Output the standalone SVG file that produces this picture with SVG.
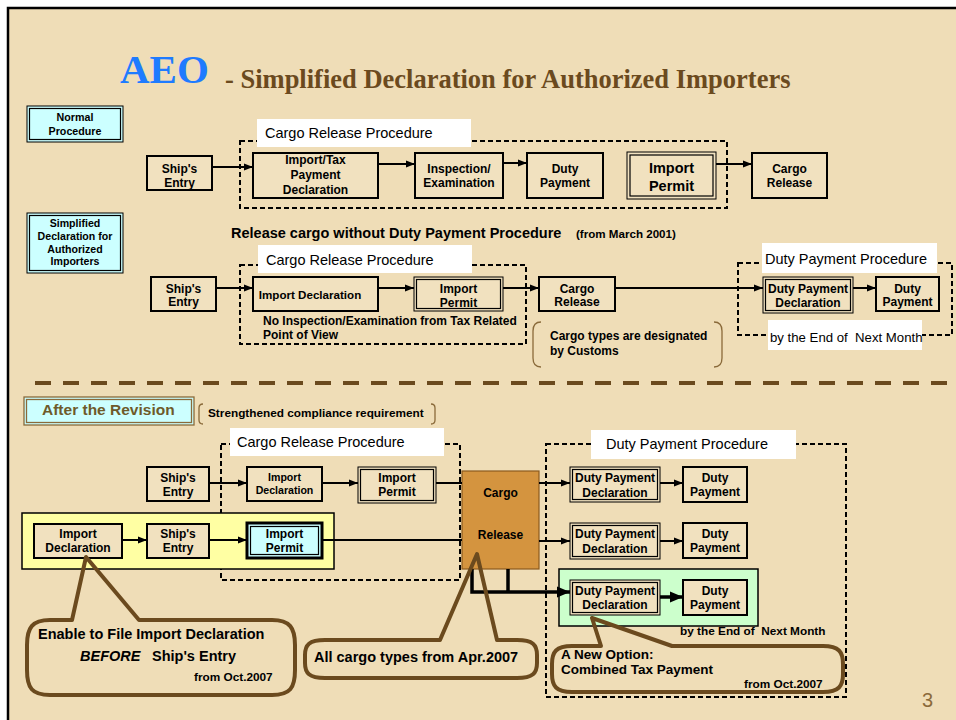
<svg xmlns="http://www.w3.org/2000/svg" width="956" height="720" viewBox="0 0 956 720">
<defs>
<style>
.bg{fill:#EFDDB7}
.box{fill:#F1E1BF;stroke:#000;stroke-width:2}
.dbo{fill:#F1E1BF;stroke:#000;stroke-width:1}
.dbi{fill:none;stroke:#000;stroke-width:1.2}
.dash{fill:none;stroke:#000;stroke-width:2;stroke-dasharray:5 3}
.lbl{fill:#fff}
.t{font-family:"Liberation Sans",Arial,sans-serif;font-weight:bold;fill:#000}
.c{text-anchor:middle}
.n{font-weight:normal}
.conn{stroke:#000;stroke-width:2;fill:none}
.thick{stroke:#000;stroke-width:3.5;fill:none}
.callout{fill:none;stroke:#6B4A1E;stroke-width:4;stroke-linejoin:round}
.brk{fill:none;stroke:#8A6A3A;stroke-width:1.3}
</style>
<marker id="ah" markerWidth="9" markerHeight="8" refX="9" refY="4" orient="auto" markerUnits="userSpaceOnUse"><path d="M0,0.5 L9,4 L0,7.5 Z" fill="#000"/></marker>
<marker id="ahb" markerWidth="13" markerHeight="12" refX="13" refY="6" orient="auto" markerUnits="userSpaceOnUse"><path d="M0,0.5 L13,6 L0,11.5 Z" fill="#000"/></marker>
</defs>
<rect x="0" y="0" width="956" height="720" fill="#fff"/>
<rect class="bg" x="8" y="8" width="948" height="712"/>
<path d="M8,720 L8,8 L956,8" fill="none" stroke="#000" stroke-width="2.5"/>

<g id="title">
<text x="120" y="83" font-family="'Liberation Serif','Times New Roman',serif" font-weight="bold" font-size="41" fill="#1E7BFF">AEO</text>
<text x="225" y="88" font-family="'Liberation Serif','Times New Roman',serif" font-weight="bold" font-size="26.5" fill="#6B4A1E">- Simplified Declaration for Authorized Importers</text>
</g>

<g id="normal-procedure">
<rect class="dbo" x="27" y="106" width="96" height="36" style="fill:#CCFFFF"/>
<rect class="dbi" x="29.5" y="108.5" width="91" height="31"/>
<text class="t c" x="75" y="121" font-size="10.7">Normal</text>
<text class="t c" x="75" y="135" font-size="10.7">Procedure</text>
</g>

<g id="crp-1">
<rect class="dash" x="240" y="141" width="487" height="67"/>
<rect class="lbl" x="257" y="119" width="214" height="28"/>
<text class="t n" x="265" y="138" font-size="14.5">Cargo Release Procedure</text>
</g>

<g id="n1-ship"><rect class="box" x="147" y="156" width="65" height="34"/>
<text class="t c" x="179.5" y="173" font-size="12">Ship's</text><text class="t c" x="179.5" y="187" font-size="12">Entry</text></g>
<g id="n1-imptax"><rect class="box" x="253" y="153" width="125" height="45"/>
<text class="t c" x="315.5" y="164" font-size="12">Import/Tax</text><text class="t c" x="315.5" y="179" font-size="12">Payment</text><text class="t c" x="315.5" y="194" font-size="12">Declaration</text></g>
<g id="n1-insp"><rect class="box" x="415" y="153" width="88" height="45"/>
<text class="t c" x="459" y="173" font-size="12">Inspection/</text><text class="t c" x="459" y="187" font-size="12">Examination</text></g>
<g id="n1-duty"><rect class="box" x="527" y="153" width="76" height="45"/>
<text class="t c" x="565" y="173" font-size="12">Duty</text><text class="t c" x="565" y="187" font-size="12">Payment</text></g>
<g id="n1-permit"><rect class="dbo" x="627" y="152" width="89" height="47"/><rect class="dbi" x="630" y="155" width="83" height="41"/>
<text class="t c" x="671.5" y="173" font-size="14.5">Import</text><text class="t c" x="671.5" y="191" font-size="14.5">Permit</text></g>
<g id="n1-release"><rect class="box" x="752" y="153" width="75" height="45"/>
<text class="t c" x="789.5" y="173" font-size="12">Cargo</text><text class="t c" x="789.5" y="187" font-size="12">Release</text></g>

<g id="simplified">
<rect class="dbo" x="27" y="213" width="96" height="60" style="fill:#CCFFFF"/>
<rect class="dbi" x="29.5" y="215.5" width="91" height="55"/>
<text class="t c" x="75" y="227" font-size="10.6">Simplified</text>
<text class="t c" x="75" y="240" font-size="10.6">Declaration for</text>
<text class="t c" x="75" y="253" font-size="10.6">Authorized</text>
<text class="t c" x="75" y="265" font-size="10.6">Importers</text>
</g>

<g id="release-note">
<text class="t" x="231" y="238" font-size="14.5">Release cargo without Duty Payment Procedure</text>
<text class="t" x="576" y="238" font-size="11.6">(from March 2001)</text>
</g>

<g id="crp-2">
<rect class="dash" x="240" y="265" width="286" height="79"/>
<rect class="lbl" x="258" y="245" width="214" height="28"/>
<text class="t n" x="266" y="265" font-size="14.5">Cargo Release Procedure</text>
<text class="t" x="263" y="325" font-size="12">No Inspection/Examination from Tax Related</text>
<text class="t" x="263" y="339" font-size="12">Point of View</text>
</g>

<g id="n2-ship"><rect class="box" x="151" y="277" width="65" height="34"/>
<text class="t c" x="183.5" y="293" font-size="12">Ship's</text><text class="t c" x="183.5" y="306" font-size="12">Entry</text></g>
<g id="n2-impdecl"><rect class="box" x="253" y="277" width="125" height="34"/>
<text class="t c" x="310" y="299" font-size="11.6">Import Declaration</text></g>
<g id="n2-permit"><rect class="dbo" x="414" y="277" width="89" height="34"/><rect class="dbi" x="416.5" y="279.5" width="84" height="29"/>
<text class="t c" x="458.5" y="293" font-size="12">Import</text><text class="t c" x="458.5" y="307" font-size="12">Permit</text></g>
<g id="n2-release"><rect class="box" x="539" y="277" width="76" height="34"/>
<text class="t c" x="577" y="293" font-size="12">Cargo</text><text class="t c" x="577" y="306" font-size="12">Release</text></g>

<g id="cargo-types">
<path class="brk" d="M541,322 Q533,322 533,331 L533,358 Q533,367 541,367"/>
<path class="brk" d="M714,322 Q722,322 722,331 L722,358 Q722,367 714,367"/>
<text class="t" x="550" y="340" font-size="12">Cargo types are designated</text>
<text class="t" x="550" y="355" font-size="12">by Customs</text>
</g>

<g id="dpp-1">
<rect class="dash" x="738" y="263" width="214" height="72"/>
<rect class="lbl" x="762" y="243" width="175" height="30"/>
<text class="t n" x="765" y="264" font-size="14.5">Duty Payment Procedure</text>
<rect class="lbl" x="768" y="320" width="154" height="30"/>
<text class="t n" x="770" y="342" font-size="13.2">by the End of&#160; Next Month</text>
</g>
<g id="n2-dpd"><rect class="dbo" x="763" y="277" width="90" height="36"/><rect class="dbi" x="765.5" y="279.5" width="85" height="31"/>
<text class="t c" x="808" y="293" font-size="12">Duty Payment</text><text class="t c" x="808" y="307" font-size="12">Declaration</text></g>
<g id="n2-dp"><rect class="box" x="876" y="277" width="63" height="34"/>
<text class="t c" x="907.5" y="293" font-size="12">Duty</text><text class="t c" x="907.5" y="306" font-size="12">Payment</text></g>

<line x1="35" y1="383" x2="950" y2="383" stroke="#6B4A1E" stroke-width="4" stroke-dasharray="16 12"/>

<g id="after-revision">
<rect x="24" y="397" width="170" height="28" fill="#CCFFFF" stroke="#8A6A3A" stroke-width="1.3"/>
<rect x="26.5" y="399.5" width="165" height="23" fill="none" stroke="#8A6A3A" stroke-width="1.3"/>
<text class="t" x="42" y="415" font-size="15.5" style="fill:#6E5A2A">After the Revision</text>
<path class="brk" d="M203,404 Q199,404 199,408 L199,420 Q199,424 203,424"/>
<path class="brk" d="M431,404 Q435,404 435,408 L435,420 Q435,424 431,424"/>
<text class="t" x="208" y="417" font-size="11.8">Strengthened compliance requirement</text>
</g>

<g id="crp-3">
<rect class="dash" x="221" y="444" width="239" height="136"/>
<rect class="lbl" x="230" y="428" width="214" height="28"/>
<text class="t n" x="237" y="447" font-size="14.5">Cargo Release Procedure</text>
</g>

<g id="dpp-2">
<rect class="dash" x="546" y="444" width="300" height="253"/>
<rect class="lbl" x="591" y="430" width="205" height="29"/>
<text class="t n" x="606" y="449" font-size="14.5">Duty Payment Procedure</text>
</g>

<g id="yellow-group"><rect x="22" y="513" width="312" height="56" fill="#FFFFA3" stroke="#000" stroke-width="1.5"/></g>
<g id="green-group"><rect x="559" y="569" width="199" height="57" fill="#CCFFCC" stroke="#000" stroke-width="1.5"/></g>

<g id="n3-ship"><rect class="box" x="147" y="467" width="62" height="34"/>
<text class="t c" x="178" y="482" font-size="12">Ship's</text><text class="t c" x="178" y="496" font-size="12">Entry</text></g>
<g id="n3-impdecl"><rect class="box" x="247" y="467" width="75" height="34"/>
<text class="t c" x="284.5" y="481" font-size="10.6">Import</text><text class="t c" x="284.5" y="494" font-size="10.6">Declaration</text></g>
<g id="n3-permit"><rect class="dbo" x="358" y="467" width="78" height="36"/><rect class="dbi" x="360.5" y="469.5" width="73" height="31"/>
<text class="t c" x="397" y="482" font-size="12">Import</text><text class="t c" x="397" y="496" font-size="12">Permit</text></g>

<g id="n4-impdecl"><rect class="box" x="34" y="524" width="88" height="34"/>
<text class="t c" x="78" y="538" font-size="12">Import</text><text class="t c" x="78" y="552" font-size="12">Declaration</text></g>
<g id="n4-ship"><rect class="box" x="147" y="524" width="62" height="34"/>
<text class="t c" x="178" y="538" font-size="12">Ship's</text><text class="t c" x="178" y="552" font-size="12">Entry</text></g>
<g id="n4-permit"><rect x="247" y="523" width="75" height="35" fill="#CCFFFF" stroke="#000" stroke-width="3"/><rect class="dbi" x="250.5" y="526.5" width="68" height="28"/>
<text class="t c" x="284.5" y="538" font-size="12">Import</text><text class="t c" x="284.5" y="552" font-size="12">Permit</text></g>

<g id="cargo-release"><rect x="462" y="471" width="77" height="98" fill="#D4943F" stroke="#8B5A1E" stroke-width="1.2"/>
<text class="t c" x="500.5" y="497" font-size="12">Cargo</text><text class="t c" x="500.5" y="539" font-size="12">Release</text></g>

<g id="n5-dpd"><rect class="dbo" x="570" y="467" width="90" height="35"/><rect class="dbi" x="572.5" y="469.5" width="85" height="30"/>
<text class="t c" x="615" y="482" font-size="12">Duty Payment</text><text class="t c" x="615" y="497" font-size="12">Declaration</text></g>
<g id="n5-dp"><rect class="box" x="683" y="467" width="64" height="35"/>
<text class="t c" x="715" y="482" font-size="12">Duty</text><text class="t c" x="715" y="496" font-size="12">Payment</text></g>
<g id="n6-dpd"><rect class="dbo" x="570" y="523" width="90" height="36"/><rect class="dbi" x="572.5" y="525.5" width="85" height="31"/>
<text class="t c" x="615" y="538" font-size="12">Duty Payment</text><text class="t c" x="615" y="553" font-size="12">Declaration</text></g>
<g id="n6-dp"><rect class="box" x="683" y="523" width="64" height="35"/>
<text class="t c" x="715" y="538" font-size="12">Duty</text><text class="t c" x="715" y="552" font-size="12">Payment</text></g>
<g id="n7-dpd"><rect class="dbo" x="570" y="580" width="90" height="35"/><rect class="dbi" x="572.5" y="582.5" width="85" height="30"/>
<text class="t c" x="615" y="595" font-size="12">Duty Payment</text><text class="t c" x="615" y="609" font-size="12">Declaration</text></g>
<g id="n7-dp"><rect class="box" x="683" y="580" width="64" height="35"/>
<text class="t c" x="715" y="595" font-size="12">Duty</text><text class="t c" x="715" y="609" font-size="12">Payment</text></g>
<text class="t" x="680" y="635" font-size="11.8">by the End of&#160; Next Month</text>

<g id="connectors">
<line class="conn" x1="212" y1="167" x2="253" y2="167" marker-end="url(#ah)"/>
<line class="conn" x1="378" y1="164" x2="415" y2="164" marker-end="url(#ah)"/>
<line class="conn" x1="503" y1="163" x2="527" y2="163" marker-end="url(#ah)"/>
<line class="conn" x1="716" y1="164" x2="752" y2="164" marker-end="url(#ah)"/>
<line class="conn" x1="216" y1="288" x2="253" y2="288" marker-end="url(#ah)"/>
<line class="conn" x1="378" y1="288" x2="414" y2="288" marker-end="url(#ah)"/>
<line class="conn" x1="503" y1="288" x2="539" y2="288" marker-end="url(#ah)"/>
<line class="conn" x1="615" y1="288" x2="763" y2="288" marker-end="url(#ah)"/>
<line class="conn" x1="853" y1="288" x2="876" y2="288" marker-end="url(#ah)"/>
<line class="conn" x1="209" y1="483" x2="247" y2="483" marker-end="url(#ah)"/>
<line class="conn" x1="322" y1="483" x2="358" y2="483" marker-end="url(#ah)"/>
<line class="conn" x1="436" y1="483" x2="462" y2="483"/>
<line class="conn" x1="122" y1="540" x2="147" y2="540" marker-end="url(#ah)"/>
<line class="conn" x1="209" y1="540" x2="247" y2="540" marker-end="url(#ah)"/>
<line class="conn" x1="322" y1="540" x2="462" y2="540"/>
<line class="conn" x1="539" y1="483" x2="570" y2="483" marker-end="url(#ah)"/>
<line class="conn" x1="539" y1="541" x2="570" y2="541" marker-end="url(#ah)"/>
<line class="conn" x1="660" y1="483" x2="683" y2="483" marker-end="url(#ah)"/>
<line class="conn" x1="660" y1="541" x2="683" y2="541" marker-end="url(#ah)"/>
<polyline class="thick" points="472,569 472,592 570,592" marker-end="url(#ahb)"/>
<line class="thick" x1="508" y1="569" x2="508" y2="592"/>
<line class="thick" x1="660" y1="597" x2="683" y2="597" marker-end="url(#ahb)"/>
</g>

<g id="callout-before">
<path class="callout" d="M50,620 L72,620 L86,557 L139,620 L272,620 C290,620 295,628 295,645 L295,670 C295,688 290,695 272,695 L50,695 C32,695 27,688 27,670 L27,645 C27,628 32,620 50,620 Z"/>
<text class="t" x="38" y="639" font-size="14.5">Enable to File Import Declaration</text>
<text class="t" x="80" y="661" font-size="14.5"><tspan font-style="italic">BEFORE</tspan><tspan x="152">Ship's Entry</tspan></text>
<text class="t" x="194" y="681" font-size="11.8">from Oct.2007</text>
</g>

<g id="callout-all">
<path class="callout" d="M325,640 L440,640 L477,554 L497,640 L517,640 C533,640 537,645 537,655 L537,663 C537,673 533,678 517,678 L325,678 C309,678 305,673 305,663 L305,655 C305,645 309,640 325,640 Z"/>
<text class="t" x="314" y="662" font-size="14.5">All cargo types from Apr.2007</text>
</g>

<g id="callout-new">
<path class="callout" d="M572,646 L601,646 L592,618 L672,646 L823,646 C839,646 843,652 843,664 L843,674 C843,686 839,692 823,692 L572,692 C556,692 552,686 552,674 L552,664 C552,652 556,646 572,646 Z"/>
<text class="t" x="561" y="659" font-size="13.5">A New Option:</text>
<text class="t" x="561" y="674" font-size="13.5">Combined Tax Payment</text>
<text class="t" x="744" y="688" font-size="11.8">from Oct.2007</text>
</g>

<text x="922" y="707" font-family="'Liberation Sans',Arial,sans-serif" font-size="20" fill="#8B6A3A">3</text>
</svg>
